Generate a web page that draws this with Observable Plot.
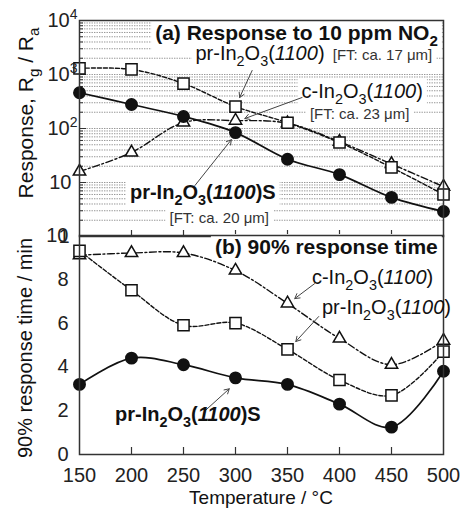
<!DOCTYPE html>
<html><head><meta charset="utf-8">
<script src="https://cdn.jsdelivr.net/npm/d3@7"></script>
<script src="https://cdn.jsdelivr.net/npm/@observablehq/plot@0.6"></script>
<style>
body{margin:0;background:#fff;}
#chart{position:relative;width:461px;height:509px;overflow:hidden;background:#fff;}
#chart svg{position:absolute;left:0;overflow:visible;}
</style></head><body><div id="chart"></div>
<script>
// ---- data ----
const temperatures = [150, 200, 250, 300, 350, 400, 450, 500];
const responsePr  = [1300, 1240, 680, 255, 128, 55, 19, 6.0];
const responsePrS = [460, 278, 167, 84, 27, 14, 5.3, 2.9];
const responseC   = [16, 36, 129, 140, 125, 57, 22, 8.4];
const timePr  = [9.3, 7.5, 5.9, 6.0, 4.8, 3.4, 2.7, 4.7];
const timePrS = [3.2, 4.4, 4.1, 3.5, 3.2, 2.3, 1.25, 3.8];
const timeC   = [9.1, 9.2, 9.2, 8.4, 6.9, 5.3, 4.1, 5.2];
const xTickLabels = [150, 200, 250, 300, 350, 400, 450, 500];
const innerXTicks = [200, 250, 300, 350, 400, 450];
const topTicks = [1, 10, 100, 1000, 10000];
const bottomTicks = [0, 2, 4, 6, 8, 10];

const FONT = '"Liberation Sans", Arial, Helvetica, sans-serif';
const series = vals => temperatures.map((t, i) => ({t, v: vals[i]}));

// annotation texts (in data coordinates of each panel)
const topNotes = [
  {text: "(a) Response to 10 ppm NO_2", t: 495, v: 4260, bold: true, anchor: "end", size: 21},
  {text: "pr-In_2O_3(*1100*)", t: 262, v: 1822, size: 20},
  {text: "[FT: ca. 17 μm]", t: 394, v: 1822, size: 15},
  {text: "c-In_2O_3(*1100*)", t: 364, v: 365, size: 20},
  {text: "[FT: ca. 23 μm]", t: 372, v: 145, size: 15},
  {text: "pr-In_2O_3(*1100*)S", t: 199, v: 4.84, bold: true, size: 20},
  {text: "[FT: ca. 20 μm]", t: 237, v: 1.75, size: 15}
];
const topArrows = [
  {x1: 316, y1: 1186, x2: 304, y2: 375},
  {x1: 364, y1: 375, x2: 309, y2: 153},
  {x1: 261, y1: 8.8, x2: 296, y2: 62}
];
const bottomNotes = [
  {text: "(b) 90% response time", t: 495, v: 9.13, bold: true, anchor: "end", size: 21},
  {text: "c-In_2O_3(*1100*)", t: 374, v: 7.75, size: 20},
  {text: "pr-In_2O_3(*1100*)", t: 383.6, v: 6.38, size: 20},
  {text: "pr-In_2O_3(*1100*)S", t: 184.6, v: 1.5, bold: true, size: 20}
];
const bottomArrows = [
  {x1: 376, y1: 7.8, x2: 357, y2: 7.12},
  {x1: 380, y1: 6.3, x2: 358, y2: 5.16},
  {x1: 271, y1: 2.01, x2: 294, y2: 3.0}
];

// ---- helpers ----
function segs(str){
  const out = []; let it = false, buf = "";
  const flush = () => { if (buf) { out.push({t: buf, it}); buf = ""; } };
  for (let i = 0; i < str.length; i++) {
    const ch = str[i];
    if (ch === "*") { flush(); it = !it; continue; }
    if (ch === "_" || ch === "^") { flush(); out.push({t: str[i+1], it, sub: ch === "_", sup: ch === "^"}); i++; continue; }
    buf += ch;
  }
  flush(); return out;
}
function richText(g, x, y, str, o = {}){
  const size = o.size || 20;
  const t = g.append("text").attr("x", x).attr("y", y).attr("font-size", size)
    .attr("font-family", FONT).attr("font-weight", o.bold ? "bold" : "normal")
    .attr("text-anchor", o.anchor || "start").attr("fill", o.fill || "#111");
  if (o.rotate) t.attr("transform", `rotate(-90 ${x} ${y})`);
  let shift = 0;
  for (const s of segs(str)) {
    const sp = t.append("tspan").text(s.t);
    const target = s.sub ? size * 0.3 : s.sup ? -size * 0.42 : 0;
    if (target !== shift) { sp.attr("dy", target - shift); shift = target; }
    if (s.sub || s.sup) sp.attr("font-size", size * 0.72);
    if (s.it) sp.attr("font-style", "italic");
  }
  return t;
}
const lineStyles = {
  pr: {strokeDasharray: "4,2", strokeWidth: 1.4},
  c: {strokeDasharray: "7,2.5,2,2.5", strokeWidth: 1.4},
  prS: {strokeWidth: 1.7}
};
function dataMarks(pr, prS, c){
  return [
    Plot.line(c, {x: "t", y: "v", curve: "catmull-rom", stroke: "#111", ...lineStyles.c}),
    Plot.line(pr, {x: "t", y: "v", curve: "catmull-rom", stroke: "#111", ...lineStyles.pr}),
    Plot.line(prS, {x: "t", y: "v", curve: "catmull-rom", stroke: "#111", ...lineStyles.prS}),
    Plot.dot(c, {x: "t", y: "v", symbol: "triangle", r: 4.6, fill: "white", stroke: "#111", strokeWidth: 1.5}),
    Plot.dot(pr, {x: "t", y: "v", symbol: "square", r: 6.3, fill: "white", stroke: "#111", strokeWidth: 1.5}),
    Plot.dot(prS, {x: "t", y: "v", r: 5.7, fill: "#111", stroke: "#111"})
  ];
}
const chart = document.getElementById("chart");

// ---- top panel ----
const TOP_H = 238, TOP_MT = 20, TOP_MB = 2, ML = 79, MR = 18;
const plotW = 461 - ML - MR;
const topPlotH = TOP_H - TOP_MT - TOP_MB;
const grid = [], majors = [10, 100, 1000];
for (let k = 0; k < 4; k++) for (let m = 1; m < 10; m++) { const v = m * 10 ** k; if (v > 1) grid.push(v); }
const minors = grid.filter(v => !majors.includes(v));

const topPlot = Plot.plot({
  width: 461, height: TOP_H, marginTop: TOP_MT, marginBottom: TOP_MB, marginLeft: ML, marginRight: MR,
  style: {background: "transparent", overflow: "visible", fontFamily: FONT, fontSize: "20px", color: "#222"},
  x: {domain: [150, 500], axis: null},
  y: {type: "log", domain: [1, 10000]},
  marks: [
    Plot.ruleY(grid, {stroke: "#8a8a8a", strokeWidth: 0.9, strokeDasharray: "1.4,1.1"}),
    Plot.ruleY(minors, {stroke: "#333", strokeWidth: 1, insetRight: plotW - 4}),
    Plot.ruleY(majors, {stroke: "#333", strokeWidth: 1, insetRight: plotW - 7}),
    Plot.ruleX(innerXTicks, {stroke: "#333", strokeWidth: 1.2, insetTop: topPlotH - 6}),
    ...dataMarks(series(responsePr), series(responsePrS), series(responseC)),
    Plot.arrow(topArrows, {x1: "x1", y1: "y1", x2: "x2", y2: "y2", stroke: "#444", strokeWidth: 1, headLength: 8}),
    Plot.frame({stroke: "#333", strokeWidth: 1.5}),
    Plot.axisY({ticks: topTicks, tickSize: 0, tickPadding: 2, fontSize: 20, fill: "#222",
      tickFormat: d => d >= 100 ? "10^" + Math.round(Math.log10(d)) : String(d), label: null})
  ]
});
topPlot.style.top = "0px";
chart.appendChild(topPlot);
d3.select(topPlot).selectAll("text").each(function(){
  const s = this.textContent, el = d3.select(this);
  if (s.includes("^")) {
    const [b, e] = s.split("^");
    el.text(null);
    el.append("tspan").text(b);
    el.append("tspan").attr("dy", -8).attr("font-size", 14).text(e);
  } else el.attr("dx", s === "1" ? -8 : -6);
});

function annotate(plot, notes){
  const sx = plot.scale("x"), sy = plot.scale("y");
  const svg = d3.select(plot);
  const firstLine = plot.querySelector('g[aria-label="line"]');
  const boxes = svg.insert("g", () => firstLine);
  const g = svg.append("g");
  for (const n of notes) {
    const el = richText(g, sx.apply(n.t), sy.apply(n.v), n.text, {bold: n.bold, anchor: n.anchor, size: n.size, fill: n.size < 20 ? "#333" : "#111"});
    const b = el.node().getBBox();
    boxes.append("rect").attr("x", b.x - 4).attr("y", b.y - 1).attr("width", b.width + 8).attr("height", b.height + 2).attr("fill", "white");
  }
}
annotate(topPlot, topNotes);
richText(d3.select(topPlot), 33, 113, "Response, R_g / R_a", {rotate: true, anchor: "middle", size: 21});

// ---- bottom panel ----
const BOT_TOP = 234, BOT_H = 509 - BOT_TOP, BOT_MT = 1, BOT_MB = 55;
const botPlotH = BOT_H - BOT_MT - BOT_MB;
const bottomPlot = Plot.plot({
  width: 461, height: BOT_H, marginTop: BOT_MT, marginBottom: BOT_MB, marginLeft: ML, marginRight: MR,
  style: {background: "transparent", overflow: "visible", fontFamily: FONT, fontSize: "20px", color: "#222"},
  x: {domain: [150, 500]},
  y: {domain: [0, 10]},
  marks: [
    Plot.ruleX(innerXTicks, {stroke: "#333", strokeWidth: 1.2, insetTop: botPlotH - 7}),
    ...dataMarks(series(timePr), series(timePrS), series(timeC)),
    Plot.arrow(bottomArrows, {x1: "x1", y1: "y1", x2: "x2", y2: "y2", stroke: "#444", strokeWidth: 1, headLength: 8}),
    Plot.frame({stroke: "#333", strokeWidth: 1.5}),
    Plot.axisY({ticks: bottomTicks, tickSize: 0, tickPadding: 11, fontSize: 20, fill: "#222", label: null}),
    Plot.axisX({ticks: xTickLabels, tickSize: 0, tickPadding: 13, fontSize: 20, fill: "#222", label: null})
  ]
});
bottomPlot.style.top = BOT_TOP + "px";
chart.appendChild(bottomPlot);
annotate(bottomPlot, bottomNotes);
richText(d3.select(bottomPlot), 32, 348 - BOT_TOP, "90% response time / min", {rotate: true, anchor: "middle", size: 20});
richText(d3.select(bottomPlot), 261, 504 - BOT_TOP, "Temperature / °C", {anchor: "middle", size: 19});
</script>
</body></html>
